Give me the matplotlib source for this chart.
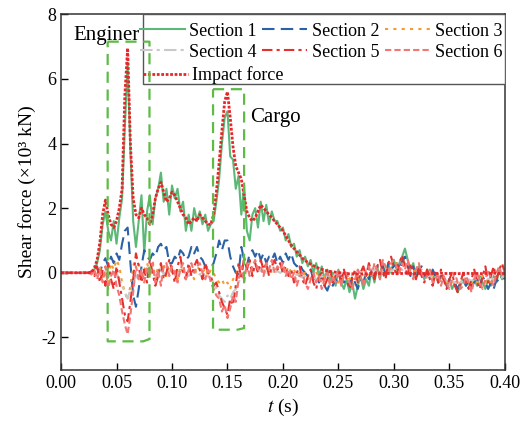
import numpy as np
import matplotlib.pyplot as plt
from matplotlib.patches import Rectangle

plt.rcParams['font.family'] = ['Liberation Serif', 'DejaVu Serif']
plt.rcParams['mathtext.fontset'] = 'stix'
plt.rcParams['axes.unicode_minus'] = False

# sampling instants, 2.5 ms apart (0 ... 0.4 s)
t = np.linspace(0, 0.4, 161)

impact = [
    0, 0, 0, 0, 0, 0, 0, 0, 0, 0,
    0.00, 0.02, 0.15, 0.40, 0.95, 1.80, 2.25, 1.80, 1.50, 1.40,
    1.60, 2.00, 2.60, 5.50, 6.95, 4.00, 2.30, 1.80, 1.70, 2.00,
    1.80, 1.70, 1.50, 1.80, 2.30, 2.60, 2.80, 2.50, 2.20, 2.30,
    2.50, 2.40, 2.20, 2.00, 1.80, 1.70, 1.50, 1.60, 1.70, 1.60,
    1.80, 1.70, 1.60, 1.50, 1.50, 1.80, 2.50, 3.40, 4.40, 5.30,
    5.60, 4.80, 3.90, 3.30, 3.10, 2.90, 2.40, 1.90, 1.70, 1.60,
    1.70, 1.90, 2.10, 2.00, 1.90, 1.80, 1.70, 1.60, 1.50, 1.40,
    1.30, 1.15, 1.00, 0.85, 0.75, 0.65, 0.55, 0.45, 0.38, 0.32,
    0.27, 0.22, 0.18, 0.14, 0.11, 0.08, 0.06, 0.04, 0.03, 0.02,
    0.01, 0.00, -0.01, -0.02, -0.03, -0.03, -0.04, -0.04, -0.03, -0.03,
    -0.03, -0.02, -0.02, -0.03, -0.03, -0.02, -0.02, -0.01, -0.02, -0.02,
    -0.02, -0.03, -0.02, -0.02, -0.01, -0.02, -0.02, -0.03, -0.02, -0.02,
    -0.02, -0.02, -0.03, -0.03, -0.02, -0.02, -0.02, -0.01, -0.02, -0.02,
    -0.02, -0.02, -0.02, -0.03, -0.02, -0.02, -0.01, -0.02, -0.02, -0.02,
    -0.02, -0.02, -0.03, -0.02, -0.02, -0.02, -0.01, -0.02, -0.02, -0.02,
    -0.02]

sec1 = [
    0, 0, 0, 0, 0, 0, 0, 0, 0, 0,
    0.0, 0.0, 0.1, 0.3, 0.7, 1.5, 1.9, 1.3, 1.0, 1.6,
    0.9, 1.7, 2.3, 4.5, 6.5, 3.8, 1.6, 0.8, 1.6, 2.4,
    0.6, 1.9, 2.4, 1.5, 2.3, 2.6, 3.1, 2.2, 2.6, 1.8,
    2.7, 2.3, 2.6, 1.9, 2.2, 1.3, 1.8, 1.3, 2.0, 1.6,
    1.9, 1.5, 1.8, 1.3, 1.5, 1.6, 2.2, 2.9, 4.0, 4.8,
    5.0, 3.6, 3.5, 2.6, 3.0, 1.8, 2.7, 1.3, 1.0, 1.8,
    2.0, 1.4, 2.2, 1.6, 2.1, 1.5, 1.9, 1.6, 1.6, 1.3,
    1.4, 1.0, 1.2, 0.8, 0.9, 0.5, 0.7, 0.3, 0.5, 0.2,
    0.4, 0.0, 0.3, -0.1, 0.2, -0.2, 0.1, -0.3, 0.0, -0.4,
    0.1, -0.3, -0.5, -0.2, -0.6, -0.3, -0.8, -0.4, -0.1, -0.5,
    -0.2, -0.4, 0.1, -0.3, 0.2, -0.2, 0.3, -0.1, 0.3, 0.0,
    0.4, 0.1, 0.3, 0.5, 0.75, 0.4, 0.1, 0.3, -0.1, 0.2,
    0.0, -0.2, 0.1, -0.1, -0.2, 0.0, -0.3, -0.1, -0.2, -0.4,
    -0.2, -0.5, -0.3, -0.6, -0.4, -0.2, -0.4, -0.3, -0.5, -0.2,
    -0.4, -0.1, -0.3, -0.5, -0.2, -0.4, -0.1, -0.3, 0.1, -0.2,
    0.0]

sec2 = [
    0, 0, 0, 0, 0, 0, 0, 0, 0, 0,
    0.0, 0.0, 0.05, 0.15, 0.0, 0.3, 0.45, 0.2, 0.5, 0.3,
    0.6, 0.4, 0.9, 1.3, 1.4, 0.3, -0.7, -1.05, -0.5, 0.2,
    0.7, 0.5, 0.4, 0.6, 0.5, 0.8, 0.9, 0.7, 0.8, 0.3,
    0.3, 0.5, 0.4, 0.7, 0.6, 0.4, 0.5, 0.8, 0.6, 0.8,
    0.5, 0.4, 0.2, 0.15, 0.15, 0.3, 0.6, 1.0, 0.7, 1.0,
    1.0, 0.5, 0.2, 0.0, -0.05, 0.8, 0.4, 0.2, 0.6, 0.7,
    0.5, 0.7, 0.4, 0.6, 0.3, 0.5, 0.4, 0.6, 0.3, 0.5,
    0.3, 0.6, 0.4, 0.6, 0.3, 0.2, 0.3, 0.1, 0.0, -0.1,
    0.1, -0.2, -0.1, -0.3, -0.1, -0.4, -0.55, -0.3, -0.4, -0.2,
    -0.35, -0.1, -0.3, -0.2, -0.4, -0.1, -0.3, -0.5, -0.2, -0.3,
    0.0, -0.2, 0.1, -0.1, 0.2, 0.0, 0.2, -0.1, 0.3, 0.1,
    0.2, 0.3, 0.1, 0.35, 0.5, 0.2, -0.1, 0.2, -0.2, 0.1,
    0.2, -0.1, 0.0, -0.2, 0.1, -0.1, -0.3, -0.1, -0.2, -0.4,
    -0.2, -0.4, -0.3, -0.5, -0.3, -0.2, -0.4, -0.2, -0.4, -0.3,
    -0.2, -0.4, -0.1, -0.3, -0.5, -0.3, -0.5, -0.2, -0.3, -0.1,
    -0.2]

sec3 = [
    0, 0, 0, 0, 0, 0, 0, 0, 0, 0,
    0.0, 0.0, 0.05, -0.1, 0.2, -0.2, 0.1, -0.3, 0.3, 0.1,
    0.4, 0.2, -0.3, -0.6, -0.85, -0.4, 0.2, 0.5, 0.3, -0.2,
    0.1, 0.3, 0.0, 0.4, -0.2, 0.2, 0.0, 0.3, -0.1, 0.2,
    0.0, 0.1, -0.2, 0.2, 0.0, -0.1, 0.1, 0.0, -0.2, 0.2,
    0.1, 0.0, 0.15, -0.1, 0.1, 0.0, -0.2, -0.3, -0.2, -0.4,
    -0.3, -0.5, -0.2, -0.1, 0.2, 0.1, 0.3, 0.2, 0.3, 0.1,
    0.2, 0.1, 0.2, 0.0, 0.1, 0.2, 0.0, 0.1, 0.1, 0.0,
    0.1, 0.0, 0.2, 0.0, 0.1, -0.1, 0.0, -0.1, 0.0, -0.2,
    -0.1, -0.2, 0.0, -0.1, -0.3, -0.1, -0.2, -0.3, -0.1, -0.2,
    -0.3, -0.1, -0.2, 0.0, -0.2, -0.1, 0.0, -0.2, 0.0, -0.1,
    0.0, -0.1, 0.1, 0.0, 0.1, 0.0, 0.1, 0.0, 0.2, 0.1,
    0.2, 0.3, 0.1, 0.2, 0.3, 0.1, 0.0, 0.1, 0.0, 0.0,
    0.1, 0.0, -0.1, 0.0, -0.1, -0.2, -0.1, -0.2, -0.1, -0.3,
    -0.2, -0.3, -0.2, -0.4, -0.3, -0.2, -0.3, -0.2, -0.3, -0.2,
    -0.3, -0.2, -0.1, -0.3, -0.2, -0.3, -0.2, -0.1, -0.2, -0.1,
    -0.1]

sec4 = [
    0, 0, 0, 0, 0, 0, 0, 0, 0, 0,
    0.0, 0.0, 0.0, -0.05, 0.05, -0.1, 0.0, -0.15, 0.05, -0.1,
    0.0, -0.2, -0.4, -0.6, -0.8, -0.5, -0.3, -0.1, -0.2, 0.0,
    -0.1, 0.1, 0.0, 0.1, -0.1, 0.0, 0.1, -0.05, 0.1, 0.0,
    0.1, 0.0, -0.1, 0.05, 0.1, 0.0, -0.1, 0.0, 0.1, 0.0,
    -0.05, 0.0, -0.1, -0.1, -0.2, -0.3, -0.5, -0.7, -0.8, -0.9,
    -0.7, -0.8, -0.6, -0.5, -0.3, -0.1, 0.0, 0.1, 0.0, 0.1,
    0.0, 0.1, 0.05, 0.1, 0.0, 0.05, 0.1, 0.0, 0.05, 0.0,
    0.05, 0.0, -0.05, 0.0, -0.1, -0.05, -0.1, -0.15, -0.1, -0.2,
    -0.15, -0.1, -0.2, -0.15, -0.1, -0.2, -0.1, -0.15, -0.1, -0.05,
    -0.1, 0.0, -0.1, -0.05, 0.0, -0.1, 0.0, 0.05, 0.0, 0.1,
    0.0, 0.1, 0.05, 0.1, 0.0, 0.1, 0.05, 0.1, 0.1, 0.05,
    0.1, 0.0, 0.05, 0.1, 0.0, -0.05, 0.0, -0.1, -0.05, -0.1,
    -0.05, -0.1, -0.15, -0.1, -0.2, -0.15, -0.2, -0.25, -0.2, -0.25,
    -0.3, -0.25, -0.3, -0.35, -0.3, -0.25, -0.3, -0.2, -0.25, -0.2,
    -0.2, -0.15, -0.2, -0.25, -0.2, -0.15, -0.2, -0.15, -0.1, -0.15,
    -0.1]

sec5 = [
    0, 0, 0, 0, 0, 0, 0, 0, 0, 0,
    0.0, 0.05, -0.1, 0.2, -0.3, 0.1, -0.4, 0.3, -0.2, -0.5,
    0.2, -0.3, -0.8, -1.3, -1.5, -0.9, -0.2, 0.6, 0.2, -0.3,
    0.1, -0.3, 0.4, 0.0, -0.4, -0.1, 0.3, -0.2, 0.0, 0.4,
    0.1, -0.3, 0.2, 0.5, 0.0, -0.2, 0.3, -0.1, 0.2, 0.4,
    0.1, -0.2, 0.3, 0.0, -0.1, -0.4, -0.3, -0.6, -0.9, -1.1,
    -1.3, -0.8, -1.0, -0.4, 0.3, -0.2, 0.5, 0.1, 0.4, -0.1,
    0.3, 0.0, 0.4, 0.1, 0.3, -0.1, 0.2, 0.4, 0.1, 0.3,
    0.0, 0.2, -0.1, 0.1, -0.3, 0.0, 0.2, -0.2, -0.4, -0.1,
    0.1, -0.3, -0.5, -0.1, 0.0, -0.4, -0.2, 0.1, -0.3, -0.1,
    0.0, -0.3, 0.1, -0.2, -0.5, -0.2, 0.1, -0.3, 0.0, 0.2,
    -0.1, 0.3, 0.0, -0.2, 0.2, 0.4, 0.0, -0.2, 0.3, 0.5,
    0.2, -0.1, 0.3, 0.55, 0.2, -0.1, 0.3, 0.0, -0.2, 0.2,
    -0.1, -0.3, 0.1, -0.2, -0.4, 0.0, -0.3, 0.1, -0.2, -0.5,
    -0.2, 0.0, -0.4, -0.6, -0.3, 0.0, -0.3, -0.5, -0.2, 0.1,
    -0.3, -0.5, -0.1, 0.2, -0.3, -0.1, 0.2, -0.2, 0.1, 0.3,
    0.0]

sec6 = [
    0, 0, 0, 0, 0, 0, 0, 0, 0, 0,
    0.0, -0.05, 0.1, -0.2, 0.1, -0.3, 0.2, -0.5, -0.1, 0.1,
    -0.4, -0.7, -1.2, -1.6, -1.9, -1.3, -0.6, 0.2, -0.2, 0.1,
    -0.3, 0.2, -0.1, 0.3, -0.3, 0.1, -0.4, 0.2, 0.3, -0.1,
    0.2, 0.0, -0.3, 0.1, 0.3, -0.2, 0.1, 0.3, 0.0, 0.2,
    0.3, 0.0, -0.2, 0.1, -0.3, -0.5, -0.7, -0.8, -1.2, -1.0,
    -1.4, -1.1, -0.7, -0.9, -0.2, 0.2, -0.3, 0.3, -0.1, 0.2,
    0.4, 0.1, 0.2, -0.1, 0.3, 0.1, 0.4, 0.0, 0.2, 0.1,
    0.3, -0.1, 0.1, -0.2, 0.0, -0.4, -0.1, 0.0, -0.3, -0.5,
    -0.2, 0.0, -0.3, -0.1, -0.5, -0.2, 0.0, -0.4, -0.1, -0.3,
    0.1, -0.4, -0.1, 0.0, -0.3, -0.5, -0.2, 0.1, -0.1, -0.4,
    0.1, 0.2, -0.1, 0.3, 0.1, -0.2, 0.4, 0.2, 0.0, 0.3,
    0.4, 0.2, 0.0, 0.3, 0.1, 0.4, 0.0, -0.2, 0.1, 0.3,
    0.0, -0.2, -0.1, 0.1, -0.3, -0.2, 0.0, -0.4, -0.1, -0.3,
    -0.5, -0.2, 0.0, -0.3, -0.5, -0.4, -0.1, -0.3, -0.6, -0.2,
    0.0, -0.3, -0.5, -0.2, 0.1, -0.2, -0.4, 0.0, 0.2, -0.1,
    0.1]

fig = plt.figure(figsize=(5.22, 4.30), dpi=100)
ax = fig.add_axes([0.117, 0.14, 0.85, 0.827])

h1, = ax.plot(t, sec1, color='#5cb877', lw=1.5, ls='-', label='Section 1')
h2, = ax.plot(t, sec2, color='#2b62a6', lw=1.5, ls=(0, (6, 3)), label='Section 2')
h3, = ax.plot(t, sec3, color='#f59b32', lw=1.5, ls=(0, (1.5, 2.5)), label='Section 3')
h4, = ax.plot(t, sec4, color='#c9c9c9', lw=1.5, ls=(0, (6, 2, 1.5, 2)), label='Section 4')
h5, = ax.plot(t, sec5, color='#e5302c', lw=1.5, ls=(0, (5, 2, 1.5, 2)), label='Section 5')
h6, = ax.plot(t, sec6, color='#f27674', lw=1.5, ls=(0, (3, 1.5)), label='Section 6')
hi, = ax.plot(t, impact, color='#e8262a', lw=2.0, ls=(0, (1, 0.6)), label='Impact force')

# legend: six sections row by row, impact force underneath, one shared frame
ax.add_patch(Rectangle((0.185, 0.804), 0.815, 0.196, transform=ax.transAxes,
                       facecolor='white', edgecolor='#555555', lw=1.0, zorder=4.5))
leg_kw = dict(fontsize=13, frameon=False, borderaxespad=0, handlelength=2.5,
              handletextpad=0.25, columnspacing=0.3, labelspacing=0.22, borderpad=0.15)
leg1 = ax.legend([h1, h4, h2, h5, h3, h6],
                 ['Section 1', 'Section 4', 'Section 2', 'Section 5', 'Section 3', 'Section 6'],
                 ncol=3, loc='upper right', bbox_to_anchor=(1.0, 0.984), **leg_kw)
ax.add_artist(leg1)
ax.legend([hi], ['Impact force'], loc='upper left', bbox_to_anchor=(0.178, 0.861), **leg_kw)

# dashed frames around the two peaks
box = dict(color='#5dbb46', lw=1.6, ls=(0, (5, 3)), zorder=6)
ax.plot([0.042, 0.0797, 0.0797, 0.074, 0.042, 0.042],
        [7.15, 7.15, -2.05, -2.12, -2.12, 7.15], **box)
ax.plot([0.137, 0.165, 0.165, 0.159, 0.137, 0.137],
        [5.68, 5.68, -1.71, -1.76, -1.76, 5.68], **box)
ax.text(0.041, 7.33, 'Enginer', fontsize=15, ha='center', va='center')
ax.text(0.193, 4.80, 'Cargo', fontsize=15, ha='center', va='center')

ax.set_xlim(0, 0.4)
ax.set_ylim(-3, 8)
ax.set_xticks(np.arange(0, 0.41, 0.05))
ax.set_xticklabels(['%.2f' % v for v in np.arange(0, 0.41, 0.05)])
ax.set_yticks([-2, 0, 2, 4, 6, 8])
ax.tick_params(direction='in', length=5, width=1, labelsize=13, top=False, right=False)
for s in ax.spines.values():
    s.set_linewidth(1.1)
    s.set_color('#333333')

ax.set_xlabel('$t$ (s)', fontsize=14)
ax.set_ylabel('Shear force (×10³ kN)', fontsize=14)

fig.savefig('out.png', dpi=100)
